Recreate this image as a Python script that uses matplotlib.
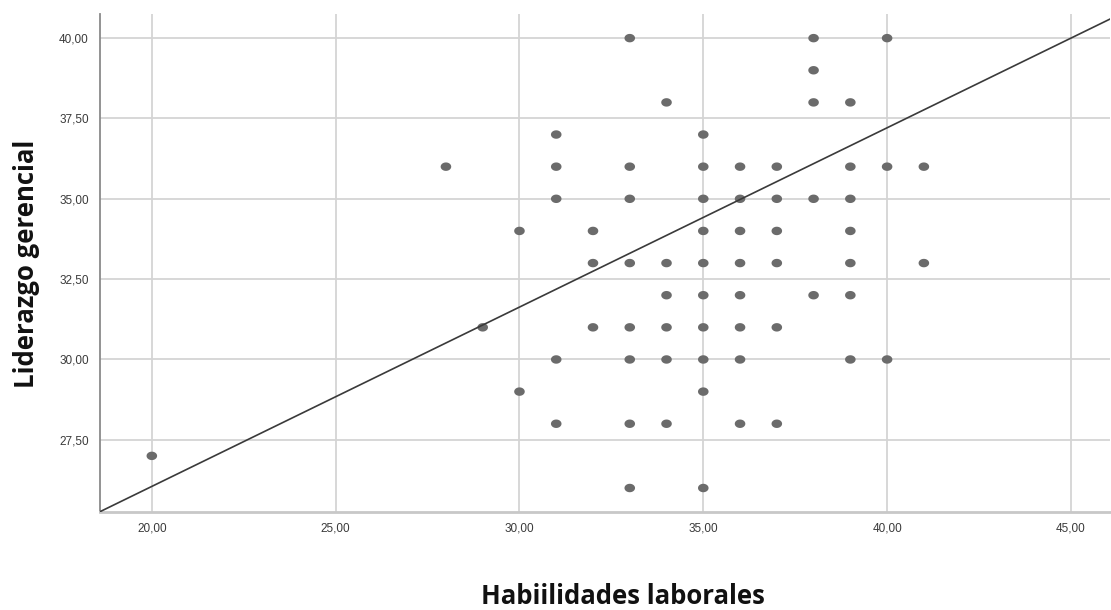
import matplotlib
matplotlib.use("Agg")
import matplotlib.pyplot as plt
from matplotlib.path import Path
import numpy as np

# Data
habilidades = [20, 28, 29, 30, 30,
               31, 31, 31, 31, 31,
               32, 32, 32,
               33, 33, 33, 33, 33, 33, 33, 33,
               34, 34, 34, 34, 34, 34,
               35, 35, 35, 35, 35, 35, 35, 35, 35, 35,
               36, 36, 36, 36, 36, 36, 36, 36,
               37, 37, 37, 37, 37, 37,
               38, 38, 38, 38, 38,
               39, 39, 39, 39, 39, 39, 39,
               40, 40, 40,
               41, 41]
liderazgo = [27, 36, 31, 34, 29,
             37, 36, 35, 30, 28,
             34, 33, 31,
             40, 36, 35, 33, 31, 30, 28, 26,
             38, 33, 32, 31, 30, 28,
             37, 36, 35, 34, 33, 32, 31, 30, 29, 26,
             36, 35, 34, 33, 32, 31, 30, 28,
             36, 35, 34, 33, 31, 28,
             40, 39, 38, 35, 32,
             38, 36, 35, 34, 33, 32, 30,
             40, 36, 30,
             36, 33]
fit_intercept = 14.89
fit_slope = 0.558

x_ticks = [20, 25, 30, 35, 40, 45]
y_ticks = [27.5, 30, 32.5, 35, 37.5, 40]
x_label = "Habiilidades laborales"
y_label = "Liderazgo gerencial"

fig = plt.figure(figsize=(11.11, 6.10), dpi=100)
ax = fig.add_axes([0.09, 0.161, 0.909, 0.816])

xlim = (18.59, 46.06)
ylim = (25.26, 40.75)
ax.set_xlim(*xlim)
ax.set_ylim(*ylim)

ax.set_xticks(x_ticks)
ax.set_yticks(y_ticks)
fmt = lambda v: f"{v:.2f}".replace(".", ",")
tick_font = ["Liberation Sans", "DejaVu Sans"]
ax.set_xticklabels([fmt(v) for v in x_ticks], fontsize=8.5, color="#3a3a3a",
                   family=tick_font)
ax.set_yticklabels([fmt(v) for v in y_ticks], fontsize=8.5, color="#3a3a3a",
                   family=tick_font)
ax.tick_params(axis="both", length=0, pad=8)

ax.grid(True, color="#d4d4d4", linewidth=1.3)
ax.set_axisbelow(True)

for s in ["top", "right"]:
    ax.spines[s].set_visible(False)
ax.spines["left"].set_color("#8a8a8a")
ax.spines["left"].set_linewidth(1.3)
ax.spines["bottom"].set_color("#c8c8c8")
ax.spines["bottom"].set_linewidth(2.0)

# slightly wide elliptical marker
t = np.linspace(0, 2 * np.pi, 40)
ellipse = Path(np.column_stack([np.cos(t), 0.8 * np.sin(t)]), closed=True)
ax.scatter(habilidades, liderazgo, s=58, marker=ellipse, color="#6b6b6b",
           edgecolors="none", zorder=3)

xs = np.array(xlim)
ax.plot(xs, fit_intercept + fit_slope * xs, color="#3a3a3a", linewidth=1.2,
        zorder=4)

label_font = ["Open Sans", "DejaVu Sans"]
fig.text(623 / 1111, 1 - 604 / 610, x_label, ha="center", va="baseline",
         fontsize=18.5, fontweight="bold", family=label_font,
         color="#111111")
fig.text(34 / 1111, 1 - 264 / 610, y_label, ha="center", va="baseline",
         rotation=90, rotation_mode="anchor", fontsize=18.5,
         fontweight="bold", family=label_font, color="#111111")

fig.savefig("out.png", dpi=100)
